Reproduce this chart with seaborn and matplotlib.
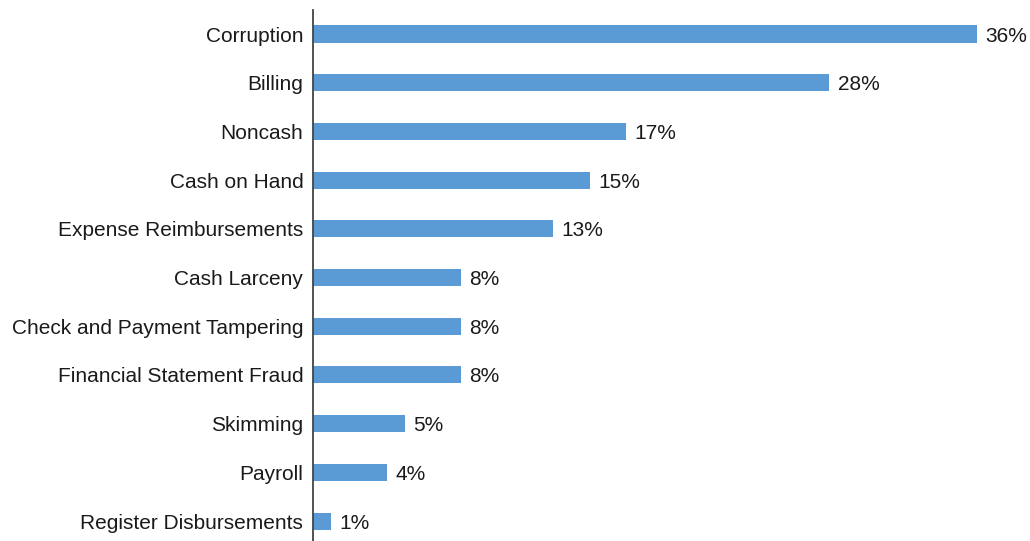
import matplotlib
matplotlib.use("Agg")
import matplotlib.pyplot as plt
import seaborn as sns
import pandas as pd

categories = [
    "Corruption", "Billing", "Noncash", "Cash on Hand", "Expense Reimbursements",
    "Cash Larceny", "Check and Payment Tampering", "Financial Statement Fraud",
    "Skimming", "Payroll", "Register Disbursements",
]
percentages = [36, 28, 17, 15, 13, 8, 8, 8, 5, 4, 1]

df = pd.DataFrame({"scheme": categories, "pct": percentages})

sns.set_style("white")
plt.rcParams["font.family"] = ["Liberation Sans", "DejaVu Sans"]

fig = plt.figure(figsize=(10.30, 5.41), dpi=100)
left_px, top_px = 313, 10
ax = fig.add_axes([left_px / 1030, 0, 1 - left_px / 1030, 1 - top_px / 541])

sns.barplot(data=df, x="pct", y="scheme", orient="h", color="#5B9BD5",
            saturation=1, width=0.35, linewidth=0, ax=ax)

ax.set_xlim(0, (1030 - left_px) / 18.44)
ax.set_ylim(10.41, -0.493)

labels = ax.bar_label(ax.containers[0], fmt="{:.0f}%", padding=6, fontsize=15,
                      color="#1a1a1a")
for t in labels:
    t.set_verticalalignment("center_baseline")

ax.set_xlabel("")
ax.set_ylabel("")
ax.set_xticks([])
ax.tick_params(axis="y", length=0, pad=7, labelsize=15, labelcolor="#1a1a1a")
for side in ["top", "right", "bottom"]:
    ax.spines[side].set_visible(False)
ax.spines["left"].set_color("#444444")
ax.spines["left"].set_linewidth(1.3)

fig.savefig("out.png", dpi=100)
